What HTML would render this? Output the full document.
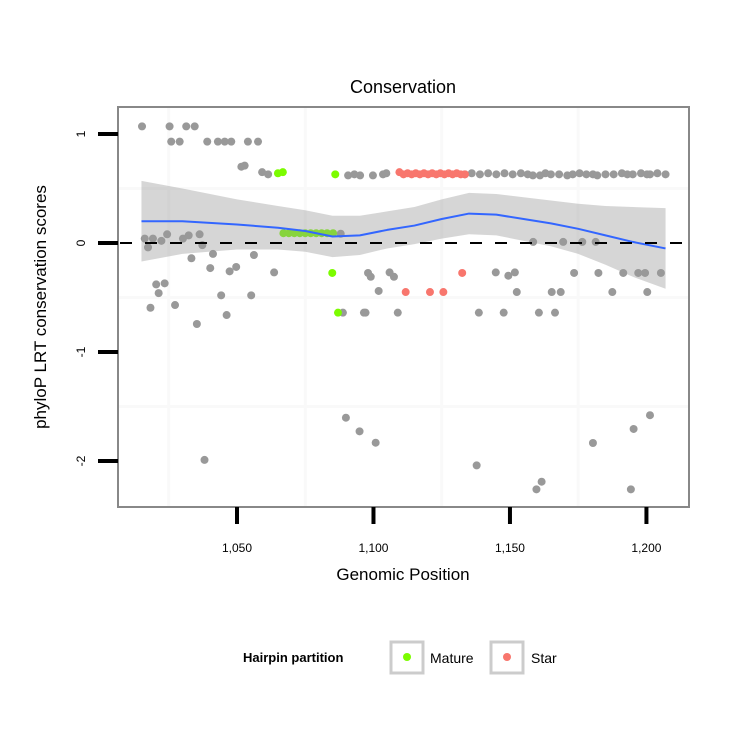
<!DOCTYPE html>
<html><head><meta charset="utf-8"><style>
html,body{margin:0;padding:0;background:#fff;}
svg{display:block;font-family:"Liberation Sans",sans-serif;}
</style></head><body>
<svg id="chart" width="750" height="750" viewBox="0 0 750 750">
<rect x="0" y="0" width="750" height="750" fill="#fff"/>
<text x="403" y="93" font-size="18" text-anchor="middle">Conservation</text>
<g id="plot"></g>
<text x="403" y="580" font-size="17" text-anchor="middle">Genomic Position</text>
<text transform="translate(46,307) rotate(-90)" font-size="17" text-anchor="middle">phyloP LRT conservation scores</text>
<g>
<text x="243" y="662" font-size="13" font-weight="bold">Hairpin partition</text>
<g>
<rect x="391" y="642" width="32" height="31" fill="#fff" stroke="#ccc" stroke-width="3"/>
<circle cx="407" cy="657" r="4" fill="#7cfc00"/>
<text x="430" y="663" font-size="14">Mature</text></g>
<g>
<rect x="491" y="642" width="32" height="31" fill="#fff" stroke="#ccc" stroke-width="3"/>
<circle cx="507" cy="657" r="4" fill="#f8766d"/>
<text x="531" y="663" font-size="14">Star</text></g>
</g>
</svg>
<script>
const grayX=[1015.2,1025.3,1031.4,1034.5,1025.9,1029.0,1039.1,1043.0,1045.5,1047.9,1054.0,1057.7,1051.6,1052.8,1059.2,1061.4,
1090.7,1093,1095.1,1099.8,1103.5,1104.7,
1133.5,1136,1139,1142,1145,1148,1151,1154,1156.5,1158.4,1161,1163,1165,1168,1171,1173,1175.5,1178,1180.4,1182,1185,1188,1191,1193,1195,1198,1200.2,1201.3,1204,1207,
1088.0,1016.2,1017.4,1019.2,1022.3,1024.4,1030.2,1032.3,1036.3,1037.3,1041.2,1033.3,1040.2,1047.3,1049.7,1056.2,1063.6,1020.4,1023.5,1021.3,1044.2,1055.2,
1098.0,1099.0,1105.9,1107.5,1101.9,1144.8,1149.4,1151.8,1173.5,1182.4,1191.5,1197.0,1199.5,1205.3,1152.5,1165.3,1168.6,1187.5,1200.3,
1158.5,1169.5,1176.5,1181.4,
1018.3,1027.3,1035.3,1046.2,1038.1,1088.8,1096.5,1097.1,1108.9,1138.6,1147.7,1160.6,1166.5,
1089.9,1094.9,1100.8,1137.8,1161.6,1159.7,1180.4,1195.3,1201.3,1194.3];
const grayY=[1.07,1.07,1.07,1.07,0.93,0.93,0.93,0.93,0.93,0.93,0.93,0.93,0.70,0.71,0.65,0.63,
0.62,0.63,0.62,0.62,0.63,0.64,
0.63,0.64,0.63,0.64,0.63,0.64,0.63,0.64,0.63,0.62,0.62,0.64,0.63,0.63,0.62,0.63,0.64,0.63,0.63,0.62,0.63,0.63,0.64,0.63,0.63,0.64,0.63,0.63,0.64,0.63,
0.085,0.04,-0.04,0.04,0.02,0.08,0.04,0.07,0.08,-0.02,-0.10,-0.14,-0.23,-0.26,-0.22,-0.11,-0.27,-0.38,-0.37,-0.46,-0.48,-0.48,
-0.275,-0.31,-0.27,-0.31,-0.44,-0.27,-0.30,-0.27,-0.275,-0.275,-0.275,-0.275,-0.275,-0.275,-0.45,-0.45,-0.45,-0.45,-0.45,
0.01,0.01,0.01,0.01,
-0.594,-0.569,-0.743,-0.661,-1.99,-0.639,-0.639,-0.639,-0.639,-0.639,-0.639,-0.639,-0.639,
-1.603,-1.728,-1.832,-2.04,-2.19,-2.26,-1.835,-1.706,-1.58,-2.26];
const matureX=[1065.0,1066.8,1086.0,1067,1069,1071,1073,1075,1077,1079,1081,1083,1085.2,1084.9,1087.0];
const matureY=[0.64,0.65,0.63,0.09,0.09,0.09,0.09,0.09,0.09,0.09,0.09,0.09,0.09,-0.275,-0.639];
const starX=[1109.5,1111,1112.5,1114,1115.5,1117,1118.5,1120,1121.5,1123,1124.5,1126,1127.5,1129,1130.5,1132,1133.5,1111.8,1120.7,1125.6,1132.5];
const starY=[0.65,0.63,0.64,0.63,0.64,0.63,0.64,0.63,0.64,0.63,0.64,0.63,0.64,0.63,0.64,0.63,0.63,-0.45,-0.45,-0.45,-0.275];
const fitX=[1015,1030,1050,1065,1075,1085,1095,1105,1115,1125,1135,1145,1155,1165,1175,1185,1195,1207];
const fitY=[0.20,0.20,0.17,0.14,0.11,0.06,0.07,0.12,0.16,0.22,0.27,0.26,0.22,0.18,0.13,0.07,0.01,-0.05];
const fitSE=[0.37,0.30,0.23,0.20,0.19,0.19,0.18,0.17,0.17,0.18,0.19,0.19,0.20,0.21,0.23,0.27,0.32,0.37];
const xTicks=[1050,1100,1150,1200];
const xTickLabels=["1,050","1,100","1,150","1,200"];
const yTicks=[1,0,-1,-2];
const yTickLabels=["1","0","-1","-2"];
const xMinor=[1025,1075,1125,1175];
const yMinor=[1.5,0.5,-0.5,-1.5];

const NS="http://www.w3.org/2000/svg";
const L=118,R=689,T=107,B=507;
const sx=v=>237+(v-1050)*2.7296;
const sy=v=>243-v*109;
const g=document.getElementById('plot');
function mk(tag,attrs,parent){const e=document.createElementNS(NS,tag);for(const k in attrs)e.setAttribute(k,attrs[k]);(parent||g).appendChild(e);return e;}
const panel=mk('rect',{x:L,y:T,width:R-L,height:B-T,fill:'#fff'});


const clip=mk('clipPath',{id:'pc'});mk('rect',{x:L,y:T,width:R-L,height:B-T},clip);
const inner=mk('g',{'clip-path':'url(#pc)'});
xMinor.forEach(v=>{const l=mk('line',{x1:sx(v),x2:sx(v),y1:T,y2:B,stroke:'#f9f9f9','stroke-width':3},inner);

});
yMinor.forEach(v=>{const l=mk('line',{x1:L,x2:R,y1:sy(v),y2:sy(v),stroke:'#f9f9f9','stroke-width':3},inner);

});
function pts(xs,ys,col,name){xs.forEach((x,i)=>{const c=mk('circle',{cx:sx(x),cy:sy(ys[i]),r:4,fill:col},inner);

});}
pts(grayX,grayY,'#999999','point-other');
pts(matureX,matureY,'#7cfc00','point-mature');
pts(starX,starY,'#f8766d','point-star');
let d='';fitX.forEach((x,i)=>{d+=(i?'L':'M')+sx(x)+','+sy(fitY[i]+fitSE[i]);});
for(let i=fitX.length-1;i>=0;i--)d+='L'+sx(fitX[i])+','+sy(fitY[i]-fitSE[i]);
const band=mk('path',{d:d+'Z',fill:'#999','fill-opacity':0.4},inner);


let ld='';fitX.forEach((x,i)=>{ld+=(i?'L':'M')+sx(x)+','+sy(fitY[i]);});
const line=mk('path',{d:ld,fill:'none',stroke:'#3366ff','stroke-width':2,'stroke-linejoin':'round'},inner);


const h=mk('line',{x1:L,x2:R,y1:sy(0),y2:sy(0),stroke:'#000','stroke-width':2,'stroke-dasharray':'12,13','stroke-dashoffset':'-2'},inner);


const border=mk('rect',{x:L,y:T,width:R-L,height:B-T,fill:'none',stroke:'#888','stroke-width':2});


xTicks.forEach((v,i)=>{const t=mk('line',{x1:sx(v),x2:sx(v),y1:B,y2:524,stroke:'#000','stroke-width':4});


const tx=mk('text',{x:sx(v),y:552,'font-size':12,'text-anchor':'middle'});tx.textContent=xTickLabels[i];

});
yTicks.forEach((v,i)=>{const t=mk('line',{x1:98,x2:L,y1:sy(v),y2:sy(v),stroke:'#000','stroke-width':4});


const tx=mk('text',{transform:'translate(85,'+sy(v)+') rotate(-90)','font-size':12,'text-anchor':'middle'});tx.textContent=yTickLabels[i];

});
</script>
</body></html>
